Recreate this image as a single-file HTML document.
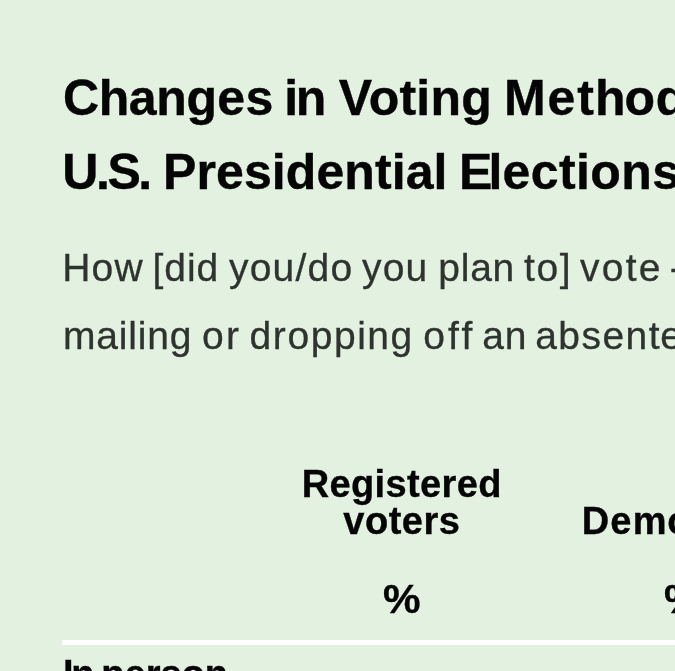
<!DOCTYPE html>
<html lang="en">
<head>
<meta charset="utf-8">
<title>Changes in Voting Methods</title>
<style>
  html, body { margin: 0; padding: 0; }
  body {
    width: 675px; height: 671px; overflow: hidden; position: relative;
    background: #e3f1e0;
    font-family: "Liberation Sans", Arial, Helvetica, sans-serif;
    color: #050505;
  }
  #wrap { position: absolute; left: 0; top: 0; width: 675px; height: 671px; overflow: hidden; will-change: transform; }
  .ln { position: absolute; left: 0; margin: 0; line-height: 1; white-space: nowrap; font-size: inherit; }
  .w { position: absolute; top: 0; white-space: pre; }
  .title { font-weight: 700; font-size: 50px; -webkit-text-stroke: 0.4px #050505; }
  .sub { font-weight: 400; font-size: 39px; color: #2e332f; -webkit-text-stroke: 0.3px #2e332f; }
  .th { font-weight: 700; font-size: 38px; -webkit-text-stroke: 0.35px #050505; }
  .pc { position: absolute; white-space: nowrap; line-height: 1; font-weight: 700; font-size: 41px; -webkit-text-stroke: 0.35px #050505; transform-origin: 0 0; transform: scaleX(1.03); }
  #rule { position: absolute; left: 62px; right: 0; top: 640px; height: 5px; background: #fff; }
</style>
</head>
<body>
<div id="wrap">
  <h1 class="ln title" style="top:73px"><span class="w" style="left:63.03px;letter-spacing:-0.43px">Chan</span><span class="w" style="left:186.45px;letter-spacing:0.31px">ges</span> <span class="w" style="left:284.3px;letter-spacing:-2.4px">in</span> <span class="w" style="left:338.8px;letter-spacing:0.24px">Voting</span> <span class="w" style="left:504.0px;letter-spacing:1.95px">Met</span><span class="w" style="left:595.0px;letter-spacing:-1.01px">ho</span><span class="w" style="left:655.74px;letter-spacing:-1.01px">ds in Recent</span></h1>
  <h1 class="ln title" style="top:147px"><span class="w" style="left:62.3px;letter-spacing:-2.43px">U.S.</span> <span class="w" style="left:163.0px;letter-spacing:0.09px">Presidential</span> <span class="w" style="left:459.1px;letter-spacing:-4.0px">El</span><span class="w" style="left:502.46px;letter-spacing:0.43px">ection</span><span class="w" style="left:652.35px;letter-spacing:0.43px">s</span></h1>
  <p class="ln sub" style="top:248px"><span class="w" style="left:62.3px;letter-spacing:1.13px">How</span> <span class="w" style="left:152.58px;letter-spacing:0.94px">[did</span> <span class="w" style="left:228.92px;letter-spacing:1.24px">you/do</span> <span class="w" style="left:362.12px;letter-spacing:1.14px">you</span> <span class="w" style="left:438.3px;letter-spacing:0.76px">plan</span> <span class="w" style="left:523.9px;letter-spacing:1.65px">to]</span> <span class="w" style="left:580.11px;letter-spacing:2.2px">vote</span> <span class="w" style="left:669.8px;letter-spacing:2.2px">-- in person on Election Day, in person before Election Day, or by</span></p>
  <p class="ln sub" style="top:316px"><span class="w" style="left:63.0px;letter-spacing:0.83px">mailing</span> <span class="w" style="left:202.0px;letter-spacing:2.38px">or</span> <span class="w" style="left:249.6px;letter-spacing:1.56px">dropping</span> <span class="w" style="left:423.2px;letter-spacing:3.2px">off</span> <span class="w" style="left:482.3px;letter-spacing:0.64px">an</span> <span class="w" style="left:535.2px;letter-spacing:1.44px">absent</span><span class="w" style="left:660.2px;letter-spacing:1.44px">ee ballot?</span></p>
  <div class="ln th" style="top:465px"><span class="w" style="left:301.7px;letter-spacing:0.37px">Registered</span></div>
  <div class="ln th" style="top:502px"><span class="w" style="left:343.31px;letter-spacing:0.52px">voters</span></div>
  <div class="ln th" style="top:502px"><span class="w" style="left:581.7px;letter-spacing:1.24px">Dem</span><span class="w" style="left:667.3px;letter-spacing:1.24px">ocrats</span></div>
  <div class="ln th" style="top:655px"><span class="w" style="left:62.9px;letter-spacing:-2.2px">In</span> <span class="w" style="left:101.3px;letter-spacing:0.0px">person</span></div>
  <div class="pc" style="left:382.7px;top:579px">%</div>
  <div class="pc" style="left:663.8px;top:579px">%</div>
  <div id="rule"></div>
</div>
</body>
</html>
